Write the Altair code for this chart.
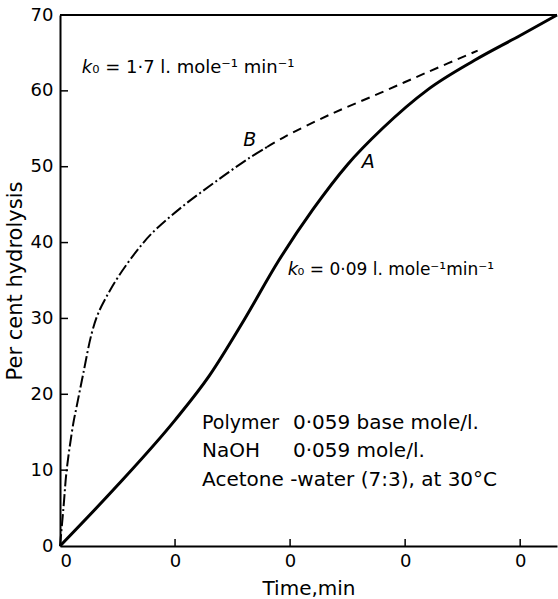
import altair as alt
import pandas as pd

# Curve A (solid)
a_time = [0, 5, 10, 13, 16, 19, 22, 25, 28, 32, 36, 40, 43.2]
a_pct = [0, 8.0, 16.6, 22.5, 29.8, 37.6, 44.4, 50.3, 55.0, 60.2, 64.0, 67.3, 70.0]

# Curve B, dash-dot part
b1_time = [0, 0.3, 0.58, 1.16, 1.45, 2.03, 2.75, 3.33, 4.2, 5.07, 6.52, 7.97, 10.6, 13.5, 16.4, 18.0]
b1_pct = [0, 5.0, 10.0, 16.2, 18.4, 22.8, 28.0, 30.7, 33.3, 35.5, 38.6, 41.2, 44.7, 48.0, 51.1, 52.6]

# Curve B, dashed part
b2_time = [18.0, 19.6, 23.5, 27.8, 32.0, 36.3]
b2_pct = [52.6, 54.0, 56.9, 59.7, 62.5, 65.3]

y_ticks = [10, 20, 30, 40, 50, 60]
x_ticks = [10, 20, 30, 40]

W, H = 497, 531
FONT = "DejaVu Sans"

xs = alt.Scale(domain=[0, 43.2], nice=False)
ys = alt.Scale(domain=[0, 70], nice=False)

dfA = pd.DataFrame({"t": a_time, "p": a_pct})
dfB1 = pd.DataFrame({"t": b1_time, "p": b1_pct})
dfB2 = pd.DataFrame({"t": b2_time, "p": b2_pct})

xax = alt.Axis(values=[0, 10, 20, 30, 40], labelExpr="'0'", ticks=False, grid=False,
               domainColor="black", domainWidth=2, labelFontSize=18, labelFont=FONT,
               labelColor="black", labelPadding=6, title="Time,min", titleFontSize=20,
               titleFont=FONT, titleFontWeight="normal", titleColor="black", titlePadding=8)
yax = alt.Axis(values=[0, 10, 20, 30, 40, 50, 60, 70], ticks=False, grid=False,
               domainColor="black", domainWidth=2, labelFontSize=18, labelFont=FONT,
               labelColor="black", labelPadding=7, title="Per cent hydrolysis", titleFontSize=21,
               titleFont=FONT, titleFontWeight="normal", titleColor="black", titlePadding=5)

lineA = alt.Chart(dfA).mark_line(color="black", strokeWidth=3, interpolate="monotone").encode(
    x=alt.X("t:Q", scale=xs, axis=xax),
    y=alt.Y("p:Q", scale=ys, axis=yax),
    order="t:Q",
)
lineB1 = alt.Chart(dfB1).mark_line(color="black", strokeWidth=2, interpolate="catmull-rom",
                                   strokeDash=[12, 3, 2, 3]).encode(
    x=alt.X("t:Q", scale=xs), y=alt.Y("p:Q", scale=ys), order="t:Q")
lineB2 = alt.Chart(dfB2).mark_line(color="black", strokeWidth=2, interpolate="catmull-rom",
                                   strokeDash=[9, 6]).encode(
    x=alt.X("t:Q", scale=xs), y=alt.Y("p:Q", scale=ys), order="t:Q")

# inward ticks
yt = alt.Chart(pd.DataFrame({"v": y_ticks})).mark_rule(color="black", strokeWidth=1.5).encode(
    y=alt.Y("v:Q", scale=ys), x=alt.value(0), x2=alt.value(8))
xt = alt.Chart(pd.DataFrame({"v": x_ticks})).mark_rule(color="black", strokeWidth=1.5).encode(
    x=alt.X("v:Q", scale=xs), y=alt.value(H), y2=alt.value(H - 7))
top = alt.Chart(pd.DataFrame({"v": [0]})).mark_rule(color="black", strokeWidth=2).encode(
    x=alt.value(0), x2=alt.value(W), y=alt.value(0))

# annotations: italic k of the two rate constants
k_x = [1.9, 19.8]
k_y = [63.0, 36.4]
k_text = ["k", "k"]

rest_x = [2.8, 20.65]
rest_y = [63.0, 36.4]
rest_text = ["₀ = 1·7 l. mole⁻¹  min⁻¹", "₀ = 0·09 l. mole⁻¹min⁻¹"]
rest_size = [18, 17]

# condition block
blk_x = [12.35, 12.35, 20.25, 20.25, 12.35]
blk_y = [16.2, 12.5, 16.2, 12.5, 8.7]
blk_text = ["Polymer", "NaOH", "0·059 base mole/l.", "0·059 mole/l.",
            "Acetone -water (7:3), at 30°C"]
blk_size = [19, 20, 20, 20, 20]

lab_x = [16.5, 26.8]
lab_y = [53.5, 50.6]
lab_text = ["B", "A"]

kmarks = alt.Chart(pd.DataFrame({"x": k_x, "y": k_y, "t": k_text})).mark_text(
    align="left", baseline="middle", fontSize=18, font=FONT, fontStyle="italic",
    color="black").encode(x=alt.X("x:Q", scale=xs), y=alt.Y("y:Q", scale=ys), text="t:N")
rest = alt.Chart(pd.DataFrame({"x": rest_x, "y": rest_y, "t": rest_text, "s": rest_size})).mark_text(
    align="left", baseline="middle", font=FONT, color="black").encode(
    x=alt.X("x:Q", scale=xs), y=alt.Y("y:Q", scale=ys), text="t:N",
    size=alt.Size("s:Q", scale=None, legend=None))
block = alt.Chart(pd.DataFrame({"x": blk_x, "y": blk_y, "t": blk_text, "s": blk_size})).mark_text(
    align="left", baseline="middle", font=FONT, color="black").encode(
    x=alt.X("x:Q", scale=xs), y=alt.Y("y:Q", scale=ys), text="t:N",
    size=alt.Size("s:Q", scale=None, legend=None))
labs = alt.Chart(pd.DataFrame({"x": lab_x, "y": lab_y, "t": lab_text})).mark_text(
    align="center", baseline="middle", fontSize=19, font=FONT, fontStyle="italic",
    color="black").encode(x=alt.X("x:Q", scale=xs), y=alt.Y("y:Q", scale=ys), text="t:N")

chart = alt.layer(lineA, lineB1, lineB2, yt, xt, top, kmarks, rest, block, labs).properties(
    width=W, height=H,
    padding={"left": 60, "top": 15, "right": 1, "bottom": 53},
    autosize=alt.AutoSizeParams(type="none"),
    background="white",
).configure_view(stroke=None)

chart.save("out.html", embed_options={"renderer": "svg", "actions": False})
